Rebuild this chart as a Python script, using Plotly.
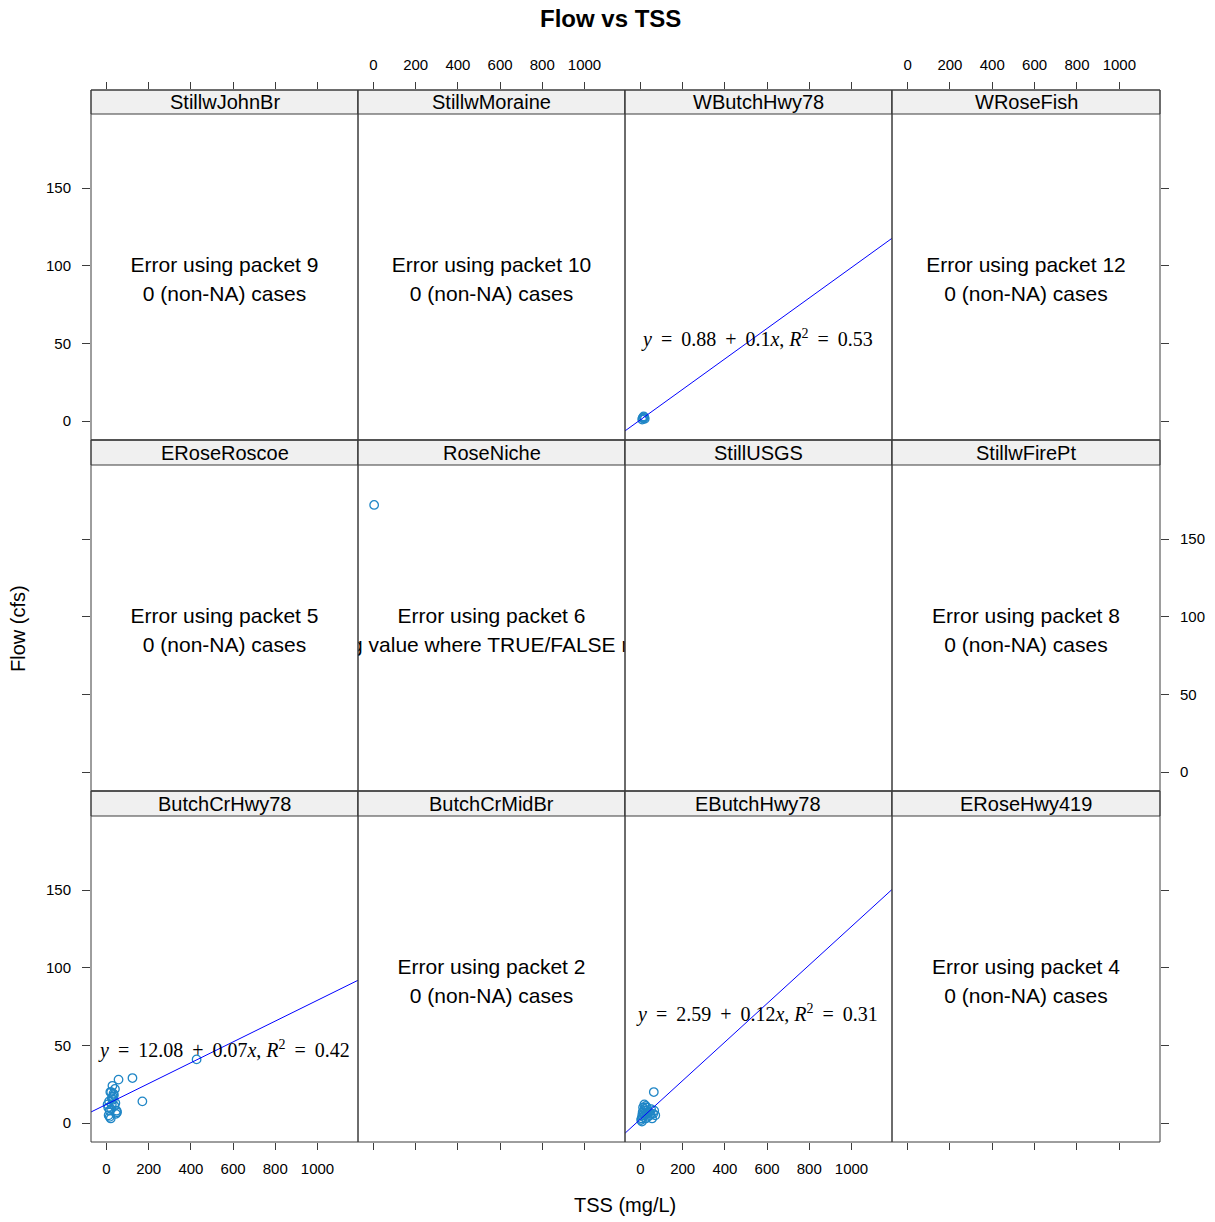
import plotly.graph_objects as go

# ---------------- data ----------------
sites = ["ButchCrHwy78", "ButchCrMidBr", "EButchHwy78", "ERoseHwy419",
         "ERoseRoscoe", "RoseNiche", "StillUSGS", "StillwFirePt",
         "StillwJohnBr", "StillwMoraine", "WButchHwy78", "WRoseFish"]

butch_tss = [57, 123, 427, 170, 10, 15, 20, 25, 30, 35, 40, 22, 45, 12, 8, 30,
             50, 38, 28, 18, 42, 22, 5, 15, 33, 25, 48]
butch_flow = [28, 29, 41, 14, 5, 8, 3, 12, 15, 18, 22, 20, 6, 14, 10, 17,
              7, 11, 24, 20, 13, 9, 12, 4, 19, 16, 8]

ebutch_tss = [63, 5, 8, 10, 12, 15, 18, 20, 22, 25, 28, 30, 35, 40, 45, 50,
              55, 60, 65, 70, 12, 18, 25, 3, 7, 32, 48]
ebutch_flow = [20, 3, 5, 7, 4, 6, 9, 5, 8, 3, 6, 10, 4, 7, 5, 9,
               3, 6, 8, 5, 10, 12, 11, 2, 1, 8, 6]

wbutch_tss = [8, 12, 15, 18, 20, 10]
wbutch_flow = [1, 2, 3, 2.5, 1.5, 2]

roseniche_tss = [3]
roseniche_flow = [172]

points = {
    "ButchCrHwy78": (butch_tss, butch_flow),
    "EButchHwy78": (ebutch_tss, ebutch_flow),
    "WButchHwy78": (wbutch_tss, wbutch_flow),
    "RoseNiche": (roseniche_tss, roseniche_flow),
}

# fitted intercept, slope
fits = {
    "ButchCrHwy78": (12.08, 0.067),
    "EButchHwy78": (2.59, 0.124),
    "WButchHwy78": (0.88, 0.098),
}
eq_labels = {
    "ButchCrHwy78": ("12.08", "0.07", "0.42"),
    "EButchHwy78": ("2.59", "0.12", "0.31"),
    "WButchHwy78": ("0.88", "0.1", "0.53"),
}
eq_pos = {  # (TSS, Flow) location of equation text
    "ButchCrHwy78": (559, 47.6),
    "EButchHwy78": (550, 70.8),
    "WButchHwy78": (554, 53.4),
}

errors = {
    "ButchCrMidBr": ("Error using packet 2", "0 (non-NA) cases"),
    "ERoseHwy419": ("Error using packet 4", "0 (non-NA) cases"),
    "ERoseRoscoe": ("Error using packet 5", "0 (non-NA) cases"),
    "RoseNiche": ("Error using packet 6", "missing value where TRUE/FALSE needed"),
    "StillwFirePt": ("Error using packet 8", "0 (non-NA) cases"),
    "StillwJohnBr": ("Error using packet 9", "0 (non-NA) cases"),
    "StillwMoraine": ("Error using packet 10", "0 (non-NA) cases"),
    "WRoseFish": ("Error using packet 12", "0 (non-NA) cases"),
}

x_ticks = [0, 200, 400, 600, 800, 1000]
y_ticks = [0, 50, 100, 150]

# ---------------- layout geometry (pixels) ----------------
W, H = 1215, 1222
col_l = [91, 358, 625, 892]
col_r = [358, 625, 892, 1160]
row_t = [90, 440, 791]     # strip tops (top row index 0)
row_b = [440, 791, 1142]
strip_h = [24, 25, 25]
X_RANGE = [-73.5, 1192]
PX_PER_Y = 1.5533
ZERO_OFF = 18.9

FONT = "Liberation Sans, Arial, sans-serif"
SERIF = "Liberation Serif, Times New Roman, serif"
PT_COL = "#1f86c6"
FRAME = "#3c3c3c"
TS = "\u2009"  # thin space (plotmath-like operator spacing)

fig = go.Figure()
layout = dict(width=W, height=H, margin=dict(l=0, r=0, t=0, b=0),
              paper_bgcolor="white", plot_bgcolor="white", showlegend=False)
shapes, annotations = [], []


def px(x):
    return x / W


def py(y):
    return 1 - y / H


for p, site in enumerate(sites):
    r = 2 - p // 4          # row from top
    c = p % 4
    k = p + 1
    xa = "xaxis" if k == 1 else f"xaxis{k}"
    ya = "yaxis" if k == 1 else f"yaxis{k}"
    xr = "x" if k == 1 else f"x{k}"
    yr = "y" if k == 1 else f"y{k}"

    height_px = row_b[r] - row_t[r]
    y_lo = -ZERO_OFF / PX_PER_Y
    y_hi = y_lo + height_px / PX_PER_Y

    xax = dict(domain=[px(col_l[c]), px(col_r[c])], range=X_RANGE, anchor=yr,
               showgrid=False, zeroline=False, showline=False,
               tickvals=x_ticks, ticks="", showticklabels=False,
               tickfont=dict(family=FONT, size=15, color="black"),
               ticklen=7, tickcolor=FRAME, tickwidth=1)
    yax = dict(domain=[py(row_b[r]), py(row_t[r])], range=[y_lo, y_hi], anchor=xr,
               showgrid=False, zeroline=False, showline=False,
               tickvals=y_ticks, ticks="", showticklabels=False,
               tickfont=dict(family=FONT, size=15, color="black"),
               ticklen=8, tickcolor=FRAME, tickwidth=1)
    if r == 0:
        xax.update(side="top", ticks="outside", showticklabels=(c in (1, 3)),
                   ticklabelstandoff=6)
    if r == 2:
        xax.update(side="bottom", ticks="outside", showticklabels=(c in (0, 2)),
                   ticklabelstandoff=6)
    if c == 0:
        yax.update(side="left", ticks="outside", showticklabels=(r in (0, 2)),
                   ticklabelstandoff=8)
    if c == 3:
        yax.update(side="right", ticks="outside", showticklabels=(r == 1),
                   ticklabelstandoff=8)
    layout[xa] = xax
    layout[ya] = yax

    # points
    if site in points:
        tx, fy = points[site]
        fig.add_trace(go.Scatter(x=tx, y=fy, xaxis=xr, yaxis=yr, mode="markers",
                                 marker=dict(symbol="circle-open", size=8.5,
                                             color=PT_COL, line=dict(width=1.3, color=PT_COL)),
                                 hoverinfo="skip"))
    # fit line
    if site in fits:
        a, b = fits[site]
        lx = [X_RANGE[0], X_RANGE[1]]
        fig.add_trace(go.Scatter(x=lx, y=[a + b * v for v in lx], xaxis=xr, yaxis=yr,
                                 mode="lines", line=dict(color="#0000ff", width=1),
                                 hoverinfo="skip"))
        i0, s0, r2 = eq_labels[site]
        ex, ey = eq_pos[site]
        annotations.append(dict(
            x=ex, y=ey, xref=xr, yref=yr, showarrow=False,
            text=(f"<i>y</i>{TS} = {TS}{i0}{TS} + {TS}{s0}<i>x</i>, "
                  f"<i>R</i><sup>2</sup>{TS} = {TS}{r2}"),
            font=dict(family=SERIF, size=20, color="black"),
            xanchor="center", yanchor="middle"))
    # error messages
    if site in errors:
        l1, l2 = errors[site]
        xc = (X_RANGE[0] + X_RANGE[1]) / 2
        fig.add_trace(go.Scatter(
            x=[xc, xc],
            y=[y_lo + 0.494 * (y_hi - y_lo), y_lo + 0.411 * (y_hi - y_lo)],
            xaxis=xr, yaxis=yr, mode="text", text=[l1, l2],
            textposition="middle center", cliponaxis=True,
            textfont=dict(family=FONT, size=21, color="black"),
            hoverinfo="skip"))

    # panel frame and strip
    shapes.append(dict(type="rect", xref="paper", yref="paper",
                       x0=px(col_l[c]), x1=px(col_r[c]),
                       y0=py(row_t[r]), y1=py(row_t[r] + strip_h[r]),
                       fillcolor="#f0f0f0", line=dict(color=FRAME, width=1),
                       layer="above"))
    shapes.append(dict(type="rect", xref="paper", yref="paper",
                       x0=px(col_l[c]), x1=px(col_r[c]),
                       y0=py(row_b[r]), y1=py(row_t[r]),
                       fillcolor="rgba(0,0,0,0)", line=dict(color=FRAME, width=1),
                       layer="above"))
    annotations.append(dict(x=(px(col_l[c]) + px(col_r[c])) / 2,
                            y=py(row_t[r] + strip_h[r] / 2),
                            xref="paper", yref="paper", showarrow=False,
                            text=site, font=dict(family=FONT, size=20, color="black"),
                            xanchor="center", yanchor="middle"))

annotations.append(dict(x=px(610), y=py(18), xref="paper", yref="paper", showarrow=False,
                        text="<b>Flow vs TSS</b>",
                        font=dict(family=FONT, size=24, color="black"),
                        xanchor="center", yanchor="middle"))
annotations.append(dict(x=px(625), y=py(1205), xref="paper", yref="paper", showarrow=False,
                        text="TSS (mg/L)", font=dict(family=FONT, size=20, color="black"),
                        xanchor="center", yanchor="middle"))
annotations.append(dict(x=px(18), y=py(629), xref="paper", yref="paper", showarrow=False,
                        text="Flow (cfs)", textangle=-90,
                        font=dict(family=FONT, size=20, color="black"),
                        xanchor="center", yanchor="middle"))

layout["shapes"] = shapes
layout["annotations"] = annotations
fig.update_layout(**layout)
fig.write_html("out.html")
